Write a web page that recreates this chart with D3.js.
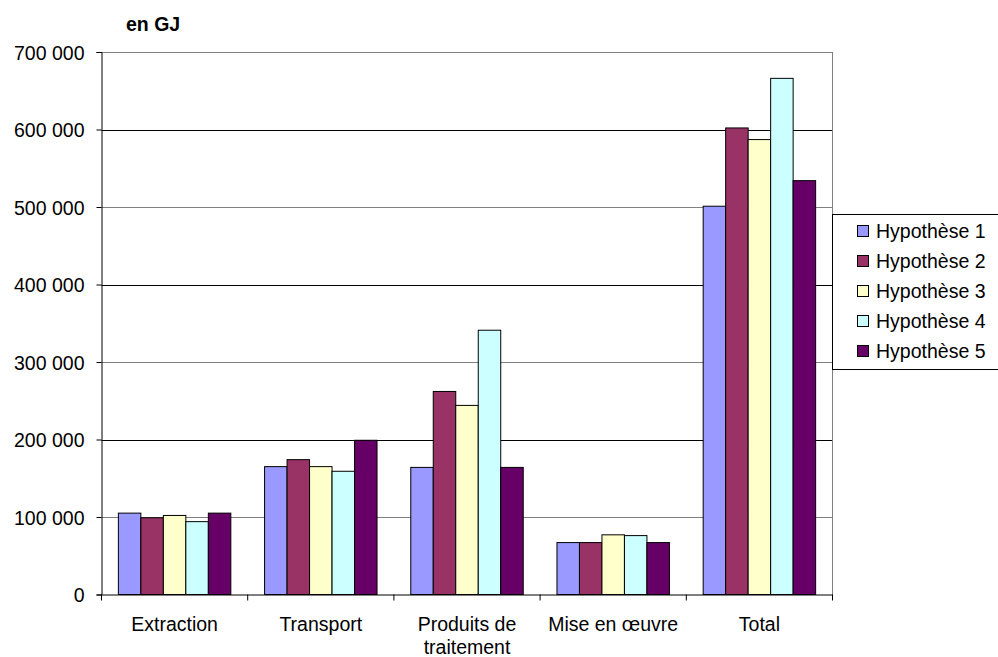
<!DOCTYPE html>
<html>
<head>
<meta charset="utf-8">
<script src="https://cdn.jsdelivr.net/npm/d3@7/dist/d3.min.js"></script>
<style>
  html, body { margin: 0; padding: 0; background: #fff; }
  svg { display: block; font-family: "Liberation Sans", Arial, sans-serif; }
</style>
</head>
<body>
<svg id="chart" width="998" height="657"></svg>
<script>
// Energy consumption by stage, in GJ, for five scenarios
const categories = ["Extraction", "Transport", "Produits de traitement", "Mise en œuvre", "Total"];
const categoryLines = [["Extraction"], ["Transport"], ["Produits de", "traitement"], ["Mise en œuvre"], ["Total"]];
const seriesNames = ["Hypothèse 1", "Hypothèse 2", "Hypothèse 3", "Hypothèse 4", "Hypothèse 5"];
const hyp1 = [105000, 165000, 164000, 67000, 501000];
const hyp2 = [99000, 174000, 262000, 67000, 602000];
const hyp3 = [102000, 165000, 244000, 77000, 587000];
const hyp4 = [94000, 159000, 341000, 76000, 666000];
const hyp5 = [105000, 199000, 164000, 67000, 534000];
const seriesColors = ["#9999FF", "#993366", "#FFFFCC", "#CCFFFF", "#660066"];
const yTicks = [0, 100000, 200000, 300000, 400000, 500000, 600000, 700000];
const unitLabel = "en GJ";

const seriesValues = [hyp1, hyp2, hyp3, hyp4, hyp5];
const svg = d3.select("#chart");
const plotLeft = 101.5, plotRight = 832.5, plotTop = 52, plotBottom = 594.5;
const fontSize = 19.5;

const x = d3.scaleBand().domain(categories).range([plotLeft, plotRight]).paddingInner(0).paddingOuter(0);
// bars within a category: gap on both sides equal to 150% of a bar width in total
const xs = d3.scaleBand().domain(seriesNames).range([0, x.bandwidth()]).paddingInner(0).paddingOuter(0.75);
const y = d3.scaleLinear().domain([0, 700000]).range([plotBottom, plotTop]);

const fmt = v => d3.format(",")(v).replace(/,/g, " ");

// horizontal gridlines
svg.append("g").selectAll("line").data(yTicks.filter(t => t > 0)).join("line")
  .attr("x1", plotLeft).attr("x2", plotRight)
  .attr("y1", d => Math.round(y(d)) + 0.5).attr("y2", d => Math.round(y(d)) + 0.5)
  .attr("stroke", (d, i) => (i % 2 === 1 ? "#000" : "#808080"))
  .attr("stroke-width", 1);

// right border of plot area
svg.append("line")
  .attr("x1", plotRight).attr("x2", plotRight).attr("y1", plotTop).attr("y2", plotBottom)
  .attr("stroke", "#808080").attr("stroke-width", 1);

// bars
const groups = svg.append("g").selectAll("g").data(categories).join("g")
  .attr("transform", d => `translate(${x(d)},0)`);
groups.selectAll("rect")
  .data((c, ci) => seriesNames.map((s, si) => ({ s, si, v: seriesValues[si][ci] })))
  .join("rect")
  .attr("x", d => xs(d.s))
  .attr("width", xs.bandwidth())
  .attr("y", d => y(d.v))
  .attr("height", d => y(0) - y(d.v))
  .attr("fill", d => seriesColors[d.si])
  .attr("stroke", "#000")
  .attr("stroke-width", 1);

// y axis
const yAxis = d3.axisLeft(y).tickValues(yTicks).tickFormat(fmt).tickSize(5).tickPadding(12);
const yg = svg.append("g").attr("transform", `translate(${plotLeft},0)`).call(yAxis);
yg.select(".domain").attr("stroke", "#000");
yg.selectAll(".tick line").attr("stroke", "#000");
yg.selectAll(".tick text").attr("font-size", fontSize).attr("fill", "#000")
  .attr("font-family", "Liberation Sans, Arial, sans-serif").attr("dy", "0.36em");

// x axis
const xAxis = d3.axisBottom(x).tickSize(0).tickFormat("");
const xg = svg.append("g").attr("transform", `translate(0,${plotBottom})`).call(xAxis);
xg.select(".domain").attr("stroke", "#000");
const boundaries = categories.map(c => x(c)).concat([plotRight]);
xg.selectAll("line.bound").data(boundaries).join("line").attr("class", "bound")
  .attr("x1", d => d).attr("x2", d => d).attr("y1", 0).attr("y2", 6).attr("stroke", "#000");

// category labels
const lbl = svg.append("g").selectAll("text").data(categories).join("text")
  .attr("x", d => x(d) + x.bandwidth() / 2)
  .attr("y", 631)
  .attr("text-anchor", "middle")
  .attr("font-size", fontSize)
  .attr("fill", "#000");
lbl.each(function (d, i) {
  const t = d3.select(this);
  categoryLines[i].forEach((line, li) => {
    t.append("tspan").attr("x", x(d) + x.bandwidth() / 2).attr("dy", li === 0 ? 0 : 23).text(line);
  });
});

// unit title
svg.append("text").attr("x", 126).attr("y", 31)
  .attr("font-size", fontSize).attr("font-weight", "bold").attr("fill", "#000")
  .text(unitLabel);

// legend
const legend = svg.append("g").attr("transform", "translate(832,214)");
legend.append("rect").attr("x", 0.5).attr("y", 0.5).attr("width", 200).attr("height", 155)
  .attr("fill", "#fff").attr("stroke", "#000").attr("stroke-width", 1);
const items = legend.selectAll("g.item").data(seriesNames).join("g").attr("class", "item")
  .attr("transform", (d, i) => `translate(0,${17 + i * 30})`);
items.append("rect").attr("x", 25.5).attr("y", -5.5).attr("width", 11).attr("height", 11)
  .attr("fill", (d, i) => seriesColors[i]).attr("stroke", "#000").attr("stroke-width", 1);
items.append("text").attr("x", 44).attr("y", 0).attr("dy", "0.36em")
  .attr("font-size", fontSize).attr("fill", "#000").text(d => d);
</script>
</body>
</html>
